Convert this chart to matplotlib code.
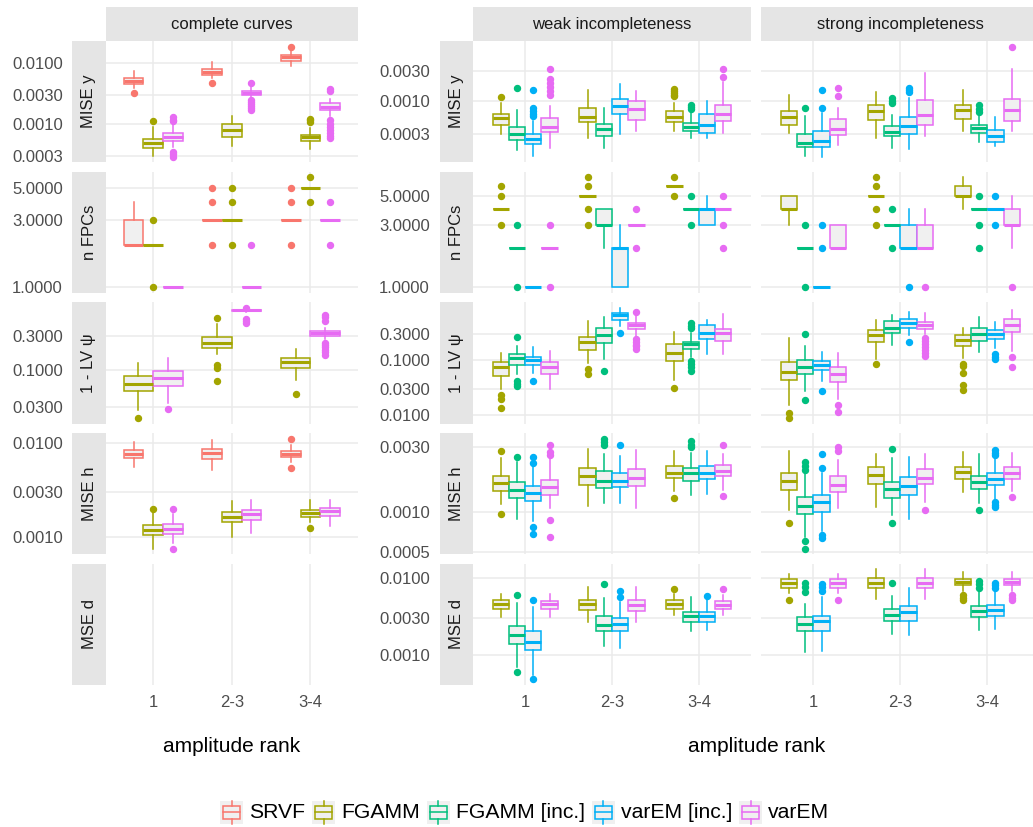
import numpy as np
import matplotlib
matplotlib.use("Agg")
import matplotlib.pyplot as plt
from matplotlib.patches import Rectangle
from matplotlib.ticker import NullLocator

plt.rcParams['font.family'] = ['Liberation Sans', 'DejaVu Sans']

methods = ['SRVF', 'FGAMM', 'FGAMM [inc.]', 'varEM [inc.]', 'varEM']
colors = {'SRVF': '#F8766D', 'FGAMM': '#A3A500', 'FGAMM [inc.]': '#00BF7D',
          'varEM [inc.]': '#00B0F6', 'varEM': '#E76BF3'}
ranks = ['1', '2-3', '3-4']
settings = ['complete curves', 'weak incompleteness', 'strong incompleteness']
measures = ['MISE y', 'n FPCs', '1 - LV ψ', 'MISE h', 'MSE d']

# boxplot summaries per method, one entry per amplitude rank:
# (lower whisker, q1, median, q3, upper whisker, [outliers])

# --- complete curves ---
complete_mise_y = {
    'SRVF': [(0.00391, 0.0045, 0.00508, 0.00563, 0.00741, [0.00316]),
             (0.00554, 0.00637, 0.00713, 0.00789, 0.01038, [0.00459]),
             (0.0087, 0.0108, 0.0122, 0.01336, 0.0161, [0.01845])],
    'FGAMM': [(0.000301, 0.000406, 0.00049, 0.000569, 0.000899, [0.00112]),
              (0.000431, 0.000604, 0.000778, 0.000975, 0.00133, []),
              (0.000391, 0.000515, 0.000598, 0.000662, 0.000848, [0.00107, 0.00114, 0.00121])],
    'varEM': [(0.000415, 0.000528, 0.000614, 0.000713, 0.000937,
               [0.00109, 0.00117, 0.00127, 0.00034, 0.000316, 0.000288]),
              (0.00279, 0.00301, 0.00324, 0.00349, 0.0041,
               [0.00467, 0.00246, 0.00231, 0.00207, 0.00192, 0.00182, 0.00165]),
              (0.00136, 0.00165, 0.00191, 0.00217, 0.00256,
               [0.00349, 0.00373, 0.00113, 0.001, 0.0009, 0.0008, 0.0007, 0.00062, 0.00058])],
}
complete_nfpc = {
    'SRVF': [(2, 2, 2, 3, 4, []), (3, 3, 3, 3, 3, [5, 4, 2]), (3, 3, 3, 3, 3, [5, 4, 2])],
    'FGAMM': [(2, 2, 2, 2, 2, [3, 1]), (3, 3, 3, 3, 3, [5, 4, 2]), (5, 5, 5, 5, 5, [6, 4])],
    'varEM': [(1, 1, 1, 1, 1, []), (1, 1, 1, 1, 1, [2]), (3, 3, 3, 3, 3, [4, 2])],
}
complete_lv = {
    'FGAMM': [(0.0272, 0.0507, 0.0643, 0.0824, 0.1254, [0.021]),
              (0.166, 0.206, 0.239, 0.293, 0.437, [0.541, 0.1175, 0.1056, 0.0701]),
              (0.0717, 0.1056, 0.1295, 0.149, 0.199, [0.0456])],
    'varEM': [(0.0347, 0.0597, 0.0765, 0.0959, 0.149, [0.0284]),
              (0.66, 0.68, 0.695, 0.71, 0.73, [0.748, 0.514, 0.49, 0.461]),
              (0.272, 0.30, 0.327, 0.352, 0.388,
               [0.604, 0.553, 0.497, 0.2415, 0.2246, 0.21, 0.19, 0.178, 0.1636])],
}
complete_mise_h = {
    'SRVF': [(0.0056, 0.00694, 0.00767, 0.0084, 0.01025, []),
             (0.00515, 0.00672, 0.00772, 0.0086, 0.0106, []),
             (0.00633, 0.00706, 0.00767, 0.00826, 0.0096, [0.0111, 0.00546])],
    'FGAMM': [(0.000748, 0.00106, 0.00119, 0.001336, 0.00178, [0.00199]),
              (0.001007, 0.001426, 0.00161, 0.00183, 0.00239, []),
              (0.001426, 0.00161, 0.0018, 0.00195, 0.00245, [0.00125])],
    'varEM': [(0.00087, 0.00107, 0.00122, 0.00136, 0.00176, [0.00199, 0.000748]),
              (0.001096, 0.001525, 0.00174, 0.00195, 0.00245, []),
              (0.001315, 0.00167, 0.001877, 0.00204, 0.0025, [])],
}

# --- weak incompleteness ---
weak_mise_y = {
    'FGAMM': [(0.000305, 0.000425, 0.000541, 0.000626, 0.00094, [0.00116]),
              (0.00026, 0.000463, 0.000562, 0.000782, 0.0015, []),
              (0.000333, 0.000468, 0.000556, 0.000693, 0.00094, [0.0012, 0.00127, 0.00134, 0.00145, 0.00155])],
    'FGAMM [inc.]': [(0.00017, 0.000245, 0.0003, 0.000389, 0.000718, [0.0016]),
                     (0.00018, 0.000287, 0.000361, 0.00044, 0.000782, []),
                     (0.00026, 0.000333, 0.000389, 0.00045, 0.00065, [0.000745, 0.0008, 0.000863])],
    'varEM [inc.]': [(0.000138, 0.000208, 0.000254, 0.000305, 0.00048,
                      [0.000577, 0.000621, 0.000693, 0.000765, 0.00148]),
                     (0.0003, 0.000627, 0.000841, 0.00109, 0.00189, []),
                     (0.00026, 0.00032, 0.000425, 0.000627, 0.001, [])],
    'varEM': [(0.00018, 0.000321, 0.000385, 0.000542, 0.000832,
               [0.00125, 0.00145, 0.00167, 0.00194, 0.00222, 0.00321]),
              (0.000341, 0.000511, 0.000738, 0.001, 0.00145, []),
              (0.00032, 0.00048, 0.000627, 0.000854, 0.00201, [0.00244, 0.00321])],
}
weak_nfpc = {
    'FGAMM': [(4, 4, 4, 4, 4, [6, 5, 3]), (5, 5, 5, 5, 5, [7, 6, 4, 3]), (6, 6, 6, 6, 6, [7, 5])],
    'FGAMM [inc.]': [(2, 2, 2, 2, 2, [3, 1]), (2, 3, 3, 4, 4, []), (4, 4, 4, 4, 4, [5, 3])],
    'varEM [inc.]': [(1, 1, 1, 1, 1, []), (1, 1, 2, 2, 3, []), (3, 3, 4, 4, 5, [])],
    'varEM': [(2, 2, 2, 2, 2, [3, 1]), (3, 3, 3, 3, 3, [4, 2]), (4, 4, 4, 4, 4, [5, 3, 2])],
}
weak_lv = {
    'FGAMM': [(0.0295, 0.0514, 0.0747, 0.0931, 0.1355, [0.023, 0.02, 0.0137]),
              (0.0894, 0.1517, 0.2117, 0.2636, 0.507, [0.0679, 0.0565]),
              (0.043, 0.096, 0.1355, 0.192, 0.321, [0.0308])],
    'FGAMM [inc.]': [(0.0551, 0.0812, 0.110, 0.1267, 0.179, [0.2636, 0.0417, 0.0368, 0.0339]),
                     (0.103, 0.2056, 0.2797, 0.384, 0.60, [0.0633]),
                     (0.113, 0.156, 0.192, 0.214, 0.312,
                      [0.374, 0.412, 0.461, 0.096, 0.0846, 0.0738, 0.064])],
    'varEM [inc.]': [(0.0589, 0.0812, 0.0988, 0.1148, 0.174, [0.0417]),
                     (0.412, 0.528, 0.643, 0.717, 0.883, [0.312]),
                     (0.13, 0.2366, 0.312, 0.424, 0.528, [])],
    'varEM': [(0.0295, 0.0565, 0.0747, 0.092, 0.1456, []),
              (0.2716, 0.359, 0.424, 0.472, 0.625, [0.746, 0.2366, 0.2123, 0.1904, 0.1796, 0.16]),
              (0.13, 0.221, 0.312, 0.368, 0.698, [])],
}
weak_mise_h = {
    'FGAMM': [(0.001133, 0.001433, 0.001629, 0.001844, 0.002477, [0.002806, 0.000957]),
              (0.001101, 0.001585, 0.001844, 0.002118, 0.00293, []),
              (0.001416, 0.00177, 0.001928, 0.002193, 0.002806, [0.001264])],
    'FGAMM [inc.]': [(0.00088, 0.001264, 0.001456, 0.001656, 0.002345, [0.002553]),
                     (0.001164, 0.001496, 0.001694, 0.002004, 0.00265, [0.003133, 0.003282, 0.003467]),
                     (0.001324, 0.001694, 0.001928, 0.002118, 0.0027, [0.00299, 0.003118, 0.003319])],
    'varEM [inc.]': [(0.000855, 0.001197, 0.001377, 0.001541, 0.002218,
                      [0.002307, 0.002553, 0.000773, 0.00069]),
                     (0.001158, 0.001513, 0.001694, 0.001928, 0.002596, [0.003133]),
                     (0.001361, 0.001741, 0.001928, 0.002193, 0.002806, [])],
    'varEM': [(0.00107, 0.001318, 0.001513, 0.001702, 0.002477,
               [0.002624, 0.002773, 0.003133, 0.000865, 0.000653]),
              (0.001059, 0.001541, 0.00177, 0.002074, 0.00285, []),
              (0.001458, 0.001823, 0.002004, 0.002218, 0.002682, [0.003104, 0.001303])],
}
weak_mse_d = {
    'FGAMM': [(0.0031, 0.00394, 0.00458, 0.0051, 0.00618, []),
              (0.002636, 0.00378, 0.00458, 0.00521, 0.00763, []),
              (0.00333, 0.00398, 0.00458, 0.0051, 0.00618, [0.00719])],
    'FGAMM [inc.]': [(0.000692, 0.001391, 0.001824, 0.002338, 0.00472, [0.00605, 0.000606]),
                     (0.001321, 0.002055, 0.00246, 0.003152, 0.00548, [0.00818]),
                     (0.002014, 0.002636, 0.003155, 0.0036, 0.00558, [])],
    'varEM [inc.]': [(0.000548, 0.001161, 0.001491, 0.002014, 0.00419, [0.00521, 0.000482]),
                     (0.001221, 0.002055, 0.002535, 0.003006, 0.00491, [0.0057, 0.00668]),
                     (0.00212, 0.002636, 0.003155, 0.0036, 0.00521, [0.00575])],
    'varEM': [(0.0031, 0.00398, 0.00462, 0.00506, 0.00618, []),
              (0.002636, 0.00373, 0.00448, 0.00521, 0.00763, []),
              (0.00333, 0.00394, 0.00449, 0.00506, 0.00605, [0.00719])],
}

# --- strong incompleteness ---
strong_mise_y = {
    'FGAMM': [(0.000312, 0.000414, 0.000556, 0.000693, 0.00125, []),
              (0.00026, 0.000511, 0.000693, 0.000863, 0.00139, []),
              (0.000341, 0.00053, 0.000737, 0.000863, 0.00148, [])],
    'FGAMM [inc.]': [(0.000138, 0.000191, 0.000222, 0.000305, 0.000577, [0.000782]),
                     (0.000185, 0.000277, 0.000324, 0.000409, 0.000614, [0.00092, 0.001, 0.0011]),
                     (0.00023, 0.00032, 0.000375, 0.000425, 0.000577, [0.000668, 0.00076, 0.000854])],
    'varEM [inc.]': [(0.000133, 0.000187, 0.000239, 0.000333, 0.00065, [0.000782, 0.00148]),
                     (0.000176, 0.0003, 0.000399, 0.000562, 0.0011, [0.00141, 0.00152, 0.00163]),
                     (0.000199, 0.00023, 0.000277, 0.000354, 0.000562, [])],
    'varEM': [(0.000204, 0.000294, 0.000361, 0.000523, 0.000782, [0.0012, 0.0016]),
              (0.000277, 0.000425, 0.000614, 0.00103, 0.00282, []),
              (0.000333, 0.000492, 0.000737, 0.00109, 0.00321, [0.00726])],
}
strong_nfpc = {
    'FGAMM': [(3, 4, 4, 5, 5, []), (5, 5, 5, 5, 5, [7, 6, 4, 3]), (4, 5, 5, 6, 7, [])],
    'FGAMM [inc.]': [(2, 2, 2, 2, 2, [3, 1]), (3, 3, 3, 3, 3, [4, 2]), (4, 4, 4, 4, 4, [5, 3, 2])],
    'varEM [inc.]': [(1, 1, 1, 1, 1, [3, 2]), (2, 2, 2, 3, 4, [1]), (4, 4, 4, 4, 4, [5, 3])],
    'varEM': [(2, 2, 2, 3, 3, []), (2, 2, 2, 3, 4, [1]), (2, 3, 3, 4, 5, [1])],
}
strong_lv = {
    'FGAMM': [(0.01535, 0.043, 0.0607, 0.0931, 0.2466, [0.01114, 0.00883]),
              (0.1056, 0.212, 0.2797, 0.348, 0.522, [0.0836]),
              (0.110, 0.179, 0.227, 0.2797, 0.384, [0.0857, 0.0779, 0.0589, 0.0349, 0.0283])],
    'FGAMM [inc.]': [(0.0275, 0.0551, 0.0747, 0.1, 0.179, [0.299, 0.0189]),
                     (0.1845, 0.312, 0.384, 0.507, 0.652, []),
                     (0.1396, 0.221, 0.299, 0.384, 0.60, [])],
    'varEM [inc.]': [(0.0417, 0.0652, 0.0812, 0.096, 0.141, [0.0275]),
                     (0.2797, 0.384, 0.461, 0.558, 0.738, [0.214]),
                     (0.1667, 0.2366, 0.2917, 0.344, 0.486, [0.1267, 0.113, 0.103])],
    'varEM': [(0.0195, 0.0406, 0.0565, 0.0747, 0.132, [0.0152, 0.0116]),
              (0.2917, 0.368, 0.43, 0.486, 0.717,
               [0.253, 0.2206, 0.1937, 0.1703, 0.1516, 0.1335, 0.1181]),
              (0.1456, 0.321, 0.424, 0.544, 0.826, [0.113, 0.0757])],
}
strong_mise_h = {
    'FGAMM': [(0.001029, 0.00144, 0.001675, 0.001928, 0.002806, [0.000832]),
              (0.001081, 0.001611, 0.001854, 0.002156, 0.00265, []),
              (0.0014, 0.001754, 0.00195, 0.002156, 0.002773, [])],
    'FGAMM [inc.]': [(0.000653, 0.000957, 0.001101, 0.001285, 0.001982,
                      [0.002036, 0.002172, 0.002318, 0.000611, 0.000532]),
                     (0.000946, 0.001253, 0.001482, 0.001656, 0.002477, [0.002883, 0.000832]),
                     (0.001164, 0.001482, 0.001648, 0.001844, 0.002667, [0.001029])],
    'varEM [inc.]': [(0.000723, 0.001, 0.001183, 0.001339, 0.001928, [0.002118, 0.00265, 0.000673, 0.00064]),
                     (0.00088, 0.001324, 0.001541, 0.001791, 0.002516, []),
                     (0.001232, 0.001566, 0.001741, 0.001928, 0.002516,
                      [0.002624, 0.00272, 0.00285, 0.001177, 0.001128, 0.00108])],
    'varEM': [(0.001059, 0.001393, 0.001585, 0.001823, 0.00241, [0.002806, 0.00302]),
              (0.001183, 0.0016, 0.00177, 0.00206, 0.002667, [0.001029]),
              (0.001416, 0.001741, 0.001928, 0.002129, 0.0027, [0.001285])],
}
strong_mse_d = {
    'FGAMM': [(0.00637, 0.0074, 0.00843, 0.0095, 0.01127, [0.0051]),
              (0.00532, 0.0074, 0.00861, 0.0098, 0.01283, []),
              (0.00668, 0.00794, 0.00887, 0.0097, 0.01197, [0.00605, 0.00553, 0.00521])],
    'FGAMM [inc.]': [(0.001104, 0.002055, 0.002535, 0.00306, 0.00458, [0.00649, 0.00748, 0.00861]),
                     (0.00188, 0.00272, 0.00325, 0.00398, 0.00588, [0.00843]),
                     (0.00212, 0.0031, 0.00375, 0.00427, 0.00668, [0.0074, 0.00818, 0.00903])],
    'varEM [inc.]': [(0.001128, 0.002055, 0.00272, 0.003155, 0.0057, [0.00668, 0.00748, 0.00818]),
                     (0.001824, 0.00277, 0.0036, 0.004355, 0.0074, []),
                     (0.00218, 0.00322, 0.00386, 0.0044, 0.00703, [0.00725, 0.00794, 0.00861])],
    'varEM': [(0.00637, 0.0074, 0.00843, 0.0095, 0.01127, [0.0051]),
              (0.00532, 0.0074, 0.00861, 0.0098, 0.01283, []),
              (0.00668, 0.00794, 0.00887, 0.0097, 0.01197, [0.00605, 0.00553, 0.00521])],
}

complete_rows = [complete_mise_y, complete_nfpc, complete_lv, complete_mise_h, None]
weak_rows = [weak_mise_y, weak_nfpc, weak_lv, weak_mise_h, weak_mse_d]
strong_rows = [strong_mise_y, strong_nfpc, strong_lv, strong_mise_h, strong_mse_d]

complete_breaks = [[0.0003, 0.001, 0.003, 0.01], [1, 3, 5], [0.03, 0.1, 0.3],
                   [0.001, 0.003, 0.01], []]
incomplete_breaks = [[0.0003, 0.001, 0.003], [1, 3, 5], [0.01, 0.03, 0.1, 0.3],
                     [0.0005, 0.001, 0.003], [0.001, 0.003, 0.01]]

# ---------------------------------------------------------------- layout (px)
W, H = 1033, 827
GRID = '#EBEBEB'
STRIP = '#E5E5E5'
BOX_FILL = '#F0F0F0'

fig = plt.figure(figsize=(W / 100, H / 100), dpi=100)
fig.patch.set_facecolor('white')


def px_axes(x0, y0, x1, y1):
    return fig.add_axes([x0 / W, 1 - y1 / H, (x1 - x0) / W, (y1 - y0) / H])


def strip(x0, y0, x1, y1, label, rotation=0):
    ax = px_axes(x0, y0, x1, y1)
    ax.set_facecolor(STRIP)
    ax.set_xticks([])
    ax.set_yticks([])
    for s in ax.spines.values():
        s.set_visible(False)
    ax.text(0.5, 0.5, label, transform=ax.transAxes, ha='center', va='center',
            rotation=rotation, fontsize=12, color='#1A1A1A')


def row_limits(panels):
    vals = []
    for p in panels:
        if p is None:
            continue
        for boxes in p.values():
            for b in boxes:
                vals += [b[0], b[4]] + list(b[5])
    lo, hi = np.log10(min(vals)), np.log10(max(vals))
    pad = 0.05 * (hi - lo)
    return 10 ** (lo - pad), 10 ** (hi + pad)


def draw_panel(ax, panel, ylim, breaks, show_y, show_x):
    ax.set_facecolor('white')
    for s in ax.spines.values():
        s.set_visible(False)
    ax.set_yscale('log')
    ax.set_xlim(0.4, 3.6)
    if ylim is not None:
        ax.set_ylim(*ylim)
    else:
        ax.set_ylim(1, 10)
    for x in (1, 2, 3):
        ax.axvline(x, color=GRID, lw=1.1, zorder=0)
    for y in breaks:
        ax.axhline(y, color=GRID, lw=1.1, zorder=0)
    ax.yaxis.set_minor_locator(NullLocator())
    ax.set_yticks(breaks)
    ax.set_yticklabels([f'{b:.4f}' for b in breaks] if show_y else [''] * len(breaks))
    ax.set_xticks([1, 2, 3])
    ax.set_xticklabels(ranks if show_x else [''] * 3)
    ax.tick_params(axis='y', length=0, pad=31, labelsize=12, labelcolor='#4D4D4D')
    ax.tick_params(axis='x', length=0, pad=7, labelsize=12, labelcolor='#4D4D4D')
    if panel is None:
        return
    for xi in range(3):
        present = [m for m in methods if m in panel]
        n = len(present)
        w = 0.75 / n
        for i, m in enumerate(present):
            lo, q1, med, q3, hi, fl = panel[m][xi]
            c = colors[m]
            pos = xi + 1 - 0.375 + w * (i + 0.5)
            stats = dict(whislo=lo, q1=q1, med=med, q3=q3, whishi=hi, fliers=fl)
            ax.bxp([stats], positions=[pos], widths=w, patch_artist=True,
                   showcaps=False, manage_ticks=False,
                   boxprops=dict(facecolor=BOX_FILL, edgecolor=c, linewidth=1.1),
                   medianprops=dict(color=c, linewidth=2.2, solid_capstyle='butt'),
                   whiskerprops=dict(color=c, linewidth=1.1),
                   flierprops=dict(marker='o', markerfacecolor=c, markeredgecolor=c,
                                   markersize=4.3, linestyle='none'))


# panel geometry
row_h, row_gap, top = 121.2, 9.5, 41
row_tops = [top + k * (row_h + row_gap) for k in range(5)]
left_x = (106, 357.5)
weak_x = (473, 751)
strong_x = (761.3, 1039.5)

# column strips
strip(left_x[0], 7, left_x[1], top, settings[0])
strip(weak_x[0], 7, weak_x[1], top, settings[1])
strip(strong_x[0], 7, strong_x[1], top, settings[2])

for r in range(5):
    y0 = row_tops[r]
    y1 = y0 + row_h
    last = r == 4
    strip(72, y0, left_x[0], y1, measures[r], rotation=90)
    strip(440, y0, weak_x[0], y1, measures[r], rotation=90)

    lim_c = row_limits([complete_rows[r]]) if complete_rows[r] is not None else None
    ax = px_axes(left_x[0], y0, left_x[1], y1)
    draw_panel(ax, complete_rows[r], lim_c, complete_breaks[r], True, last)

    lim_i = row_limits([weak_rows[r], strong_rows[r]])
    ax = px_axes(weak_x[0], y0, weak_x[1], y1)
    draw_panel(ax, weak_rows[r], lim_i, incomplete_breaks[r], True, last)
    ax = px_axes(strong_x[0], y0, strong_x[1], y1)
    draw_panel(ax, strong_rows[r], lim_i, incomplete_breaks[r], False, last)

# axis titles
fig.text((left_x[0] + left_x[1]) / 2 / W, 1 - 747 / H, 'amplitude rank',
         ha='center', va='center', fontsize=15, color='black')
fig.text((weak_x[0] + strong_x[1]) / 2 / W, 1 - 747 / H, 'amplitude rank',
         ha='center', va='center', fontsize=15, color='black')

# legend along the bottom
lax = fig.add_axes([0, 0, 1, 1], zorder=-1)
lax.set_xlim(0, W)
lax.set_ylim(H, 0)
lax.axis('off')
renderer = fig.canvas.get_renderer()
kx, ky, kw, kh = 220, 801, 23, 22.7
for m in methods:
    c = colors[m]
    lax.add_patch(Rectangle((kx, ky), kw, kh, facecolor='#F0F0F0', edgecolor='none'))
    cx = kx + kw / 2
    lax.add_patch(Rectangle((kx + 3, ky + 4.7), kw - 6, 13.3, facecolor=BOX_FILL,
                            edgecolor=c, linewidth=1.1))
    lax.plot([kx + 3, kx + kw - 3], [ky + 11.3, ky + 11.3], color=c, lw=1.1)
    lax.plot([cx, cx], [ky, ky + 4.7], color=c, lw=1.1)
    lax.plot([cx, cx], [ky + 18, ky + kh], color=c, lw=1.1)
    t = lax.text(kx + kw + 6, ky + kh / 2 + 0.5, m, ha='left', va='center',
                 fontsize=15.2, color='black')
    tw = t.get_window_extent(renderer=renderer).width
    kx = kx + kw + 6 + tw + 7

fig.savefig('out.png', dpi=100)
